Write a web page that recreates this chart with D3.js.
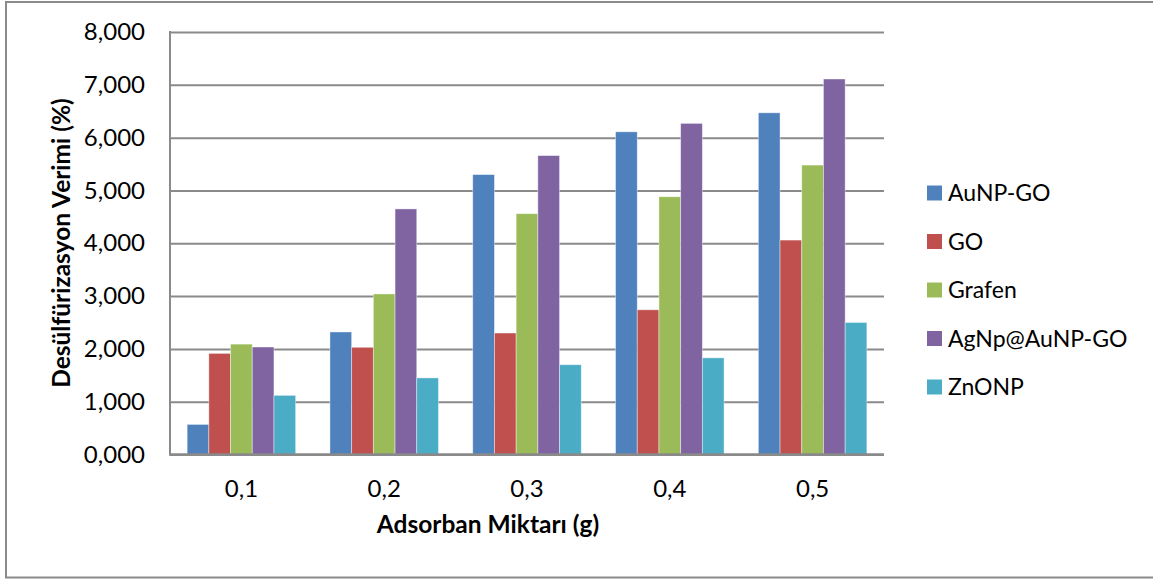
<!DOCTYPE html>
<html>
<head>
<script src="https://d3js.org/d3.v7.min.js"></script>
<style>
    body{ margin:0; background:#fff; font-family:Lato, "Open Sans", sans-serif; }
</style>
</head>
<body>
<div id="chart"></div>
<script>
    var categories = ["0,1","0,2","0,3","0,4","0,5"]
    var seriesNames = ["AuNP-GO","GO","Grafen","AgNp@AuNP-GO","ZnONP"]
    var aunpGo = [0.57, 2.32, 5.30, 6.11, 6.47]
    var go = [1.915, 2.03, 2.30, 2.74, 4.06]
    var grafen = [2.09, 3.04, 4.56, 4.88, 5.48]
    var agnp = [2.035, 4.65, 5.66, 6.27, 7.11]
    var znonp = [1.12, 1.45, 1.70, 1.83, 2.50]
    var yTicks = [0,1,2,3,4,5,6,7,8]
    var colors = ["#4F81BD","#C0504D","#9BBB59","#8064A2","#4BACC6"]

    var allSeries = [aunpGo, go, grafen, agnp, znonp]

    var plotLeft = 170, plotRight = 884, plotTop = 32, plotBottom = 454.5
    var gridColor = "#8a8a8a"

    var svg = d3.select("#chart").append("svg")
        .attr("width",1153).attr("height",580)

    // outer frame
    svg.append("rect").attr("x",6).attr("y",2).attr("width",1160).attr("height",575.5)
        .attr("fill","white").attr("stroke",gridColor).attr("stroke-width",2)

    var x0 = d3.scaleBand().domain(categories).range([plotLeft,plotRight]).padding(0)
    var x1 = d3.scaleBand().domain(seriesNames).range([0,x0.bandwidth()]).paddingInner(0).paddingOuter(0.79)
    var y = d3.scaleLinear().domain([0,8]).range([plotBottom,plotTop])

    var tr = d3.formatLocale({decimal:",", thousands:".", grouping:[3], currency:["",""]})
    var fmt = tr.format(".3f")

    // gridlines + y labels
    var yAxis = d3.axisLeft(y).tickValues(yTicks).tickSize(-(plotRight-plotLeft)).tickPadding(25).tickFormat(fmt)
    var gy = svg.append("g").attr("transform","translate("+plotLeft+",0)").call(yAxis)
    gy.select(".domain").remove()
    gy.selectAll("line").attr("stroke",gridColor).attr("stroke-width",2)
    gy.selectAll("text").attr("font-size",24).attr("fill","#000").attr("font-family","Lato")

    // bars
    var groups = svg.selectAll("g.cat").data(categories).enter().append("g")
        .attr("class","cat")
        .attr("transform",function(d){return "translate("+x0(d)+",0)"})

    groups.selectAll("rect")
        .data(function(d,i){ return seriesNames.map(function(s,j){ return {s:s, v:allSeries[j][i], c:colors[j]} }) })
        .enter().append("rect")
        .attr("x",function(d){return x1(d.s)})
        .attr("y",function(d){return y(d.v)})
        .attr("width",x1.bandwidth())
        .attr("height",function(d){return plotBottom-y(d.v)})
        .attr("fill",function(d){return d.c})
        .attr("stroke","#ffffff").attr("stroke-opacity",0.5).attr("stroke-width",0.8)

    // axis lines
    svg.append("line").attr("x1",plotLeft).attr("x2",plotLeft).attr("y1",plotTop-1).attr("y2",plotBottom)
        .attr("stroke",gridColor).attr("stroke-width",2)
    svg.append("line").attr("x1",plotLeft-1).attr("x2",plotRight).attr("y1",plotBottom).attr("y2",plotBottom)
        .attr("stroke",gridColor).attr("stroke-width",2.5)

    // x labels
    var xAxis = d3.axisBottom(x0).tickSize(0).tickPadding(25)
    var gx = svg.append("g").attr("transform","translate(0,"+plotBottom+")").call(xAxis)
    gx.select(".domain").remove()
    gx.selectAll("text").attr("font-size",24).attr("fill","#000").attr("font-family","Lato")

    // titles
    svg.append("text").text("Adsorban Miktarı (g)")
        .attr("x",488).attr("y",533).attr("text-anchor","middle")
        .attr("font-size",24.5).attr("font-weight","bold")

    svg.append("text").text("Desülfürizasyon Verimi (%)")
        .attr("transform","translate(70,243) rotate(-90)")
        .attr("text-anchor","middle")
        .attr("font-size",24.5).attr("font-weight","bold")

    // legend
    var legend = svg.selectAll("g.leg").data(seriesNames).enter().append("g")
        .attr("class","leg")
        .attr("transform",function(d,i){return "translate(927,"+(193+i*48.5)+")"})
    legend.append("rect").attr("x",0).attr("y",-7.5).attr("width",15).attr("height",15)
        .attr("fill",function(d,i){return colors[i]})
    legend.append("text").text(function(d){return d})
        .attr("x",21).attr("y",8).attr("font-size",23)
</script>
</body>
</html>
